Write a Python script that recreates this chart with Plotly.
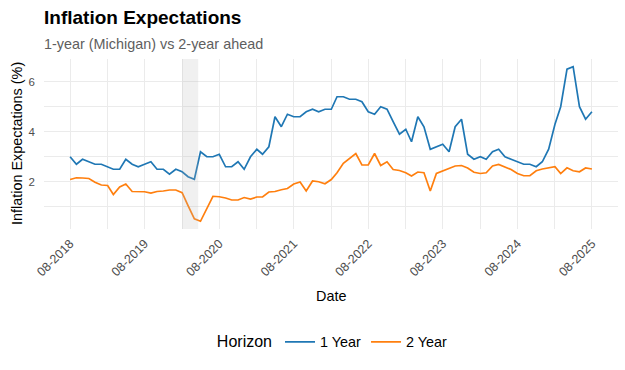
import pandas as pd
import plotly.graph_objects as go

# ---------------- data ----------------
start_month = "2018-08-01"
n_months = 85
dates = pd.date_range(start_month, periods=n_months, freq="MS")

one_year = [
    3.0, 2.7, 2.9, 2.8, 2.7,                                   # 2018 Aug-Dec
    2.7, 2.6, 2.5, 2.5, 2.9, 2.7, 2.6, 2.7, 2.8, 2.5, 2.5, 2.3,  # 2019
    2.5, 2.4, 2.2, 2.1, 3.2, 3.0, 3.0, 3.1, 2.6, 2.6, 2.8, 2.5,  # 2020
    3.0, 3.3, 3.1, 3.4, 4.6, 4.2, 4.7, 4.6, 4.6, 4.8, 4.9, 4.8,  # 2021
    4.9, 4.9, 5.4, 5.4, 5.3, 5.3, 5.2, 4.8, 4.7, 5.0, 4.9, 4.4,  # 2022
    3.9, 4.1, 3.6, 4.6, 4.2, 3.3, 3.4, 3.5, 3.2, 4.2, 4.5, 3.1,  # 2023
    2.9, 3.0, 2.9, 3.2, 3.3, 3.0, 2.9, 2.8, 2.7, 2.7, 2.6, 2.8,  # 2024
    3.3, 4.3, 5.0, 6.5, 6.6, 5.0, 4.5, 4.8,                      # 2025 Jan-Aug
]

two_year = [
    2.09, 2.16, 2.15, 2.13, 1.98,
    1.87, 1.85, 1.49, 1.79, 1.91, 1.61, 1.61, 1.60, 1.55, 1.61, 1.63, 1.67,
    1.67, 1.56, 1.05, 0.52, 0.42, 0.95, 1.42, 1.40, 1.35, 1.27, 1.27, 1.37,
    1.31, 1.39, 1.39, 1.59, 1.61, 1.68, 1.73, 1.91, 1.99, 1.63, 2.03, 2.00,
    1.92, 2.09, 2.36, 2.74, 2.94, 3.13, 2.67, 2.67, 3.13, 2.65, 2.80, 2.49,
    2.45, 2.36, 2.23, 2.39, 2.36, 1.63, 2.33, 2.43, 2.53, 2.63, 2.65, 2.55,
    2.38, 2.33, 2.36, 2.63, 2.69, 2.60, 2.49, 2.33, 2.24, 2.24, 2.44, 2.51,
    2.56, 2.60, 2.33, 2.56, 2.44, 2.40, 2.55, 2.51,
]

series_names = ["1 Year", "2 Year"]
series_colors = ["#1f77b4", "#ff7f0e"]

recession_start = "2020-02-01"
recession_end = "2020-04-20"

title_text = "Inflation Expectations"
subtitle_text = "1-year (Michigan) vs 2-year ahead"
x_title = "Date"
y_title = "Inflation Expectations (%)"
legend_title = "Horizon"

# ---------------- layout geometry ----------------
W, H = 625, 370
L, R, T, B = 44, 7, 59, 141
PW, PH = W - L - R, H - T - B


def px_x(x):
    return (x - L) / PW


def px_y(y):
    return (H - B - y) / PH


FONT = "Liberation Sans, Arial, sans-serif"

fig = go.Figure()
for name, vals, col in zip(series_names, [one_year, two_year], series_colors):
    fig.add_trace(go.Scatter(x=dates, y=vals, mode="lines", name=name,
                             line=dict(color=col, width=1.7)))

# expanded ranges like ggplot (5%)
span = dates[-1] - dates[0]
x_range = [dates[0] - span * 0.05, dates[-1] + span * 0.05]
all_vals = one_year + two_year
vmin, vmax = min(all_vals), max(all_vals)
pad = (vmax - vmin) * 0.05
y_range = [vmin - pad, vmax + pad]

fig.add_shape(type="rect", xref="x", yref="paper",
              x0=recession_start, x1=recession_end, y0=0, y1=1,
              fillcolor="rgb(179,179,179)", opacity=0.2, line=dict(width=0),
              layer="above")

grid = "#EBEBEB"
fig.update_xaxes(
    range=x_range, type="date", automargin=False,
    tick0=start_month, dtick="M12", tickformat="%m-%Y", tickangle=-45,
    showgrid=True, gridcolor=grid, gridwidth=1,
    minor=dict(tick0="2018-02-01", dtick="M12", showgrid=True,
               gridcolor=grid, gridwidth=1),
    showline=False, zeroline=False, ticks="",
    tickfont=dict(family=FONT, size=12.5, color="#4D4D4D"),
    ticklabelstandoff=4,
)
fig.update_yaxes(
    range=y_range, tick0=0, dtick=2, automargin=False,
    showgrid=True, gridcolor=grid, gridwidth=1,
    minor=dict(tick0=0, dtick=1, showgrid=True, gridcolor=grid, gridwidth=1),
    showline=False, zeroline=False, ticks="",
    tickfont=dict(family=FONT, size=11.5, color="#4D4D4D"),
    ticklabelstandoff=8,
)

annotations = [
    dict(text="<b>" + title_text + "</b>", x=px_x(42), y=px_y(17.5),
         xanchor="left", yanchor="middle",
         font=dict(family=FONT, size=19, color="black")),
    dict(text=subtitle_text, x=px_x(42), y=px_y(43.5),
         xanchor="left", yanchor="middle",
         font=dict(family=FONT, size=14.4, color="#5E5E5E")),
    dict(text=x_title, x=0.5, y=px_y(296),
         xanchor="center", yanchor="middle",
         font=dict(family=FONT, size=14.4, color="black")),
    dict(text=y_title, x=px_x(17), y=0.5, textangle=-90,
         xanchor="center", yanchor="middle",
         font=dict(family=FONT, size=14.4, color="black")),
]
for a in annotations:
    a.update(xref="paper", yref="paper", showarrow=False)

fig.update_layout(
    width=W, height=H,
    margin=dict(l=L, r=R, t=T, b=B, autoexpand=False),
    paper_bgcolor="white", plot_bgcolor="white",
    annotations=annotations,
    font=dict(family=FONT),
    legend=dict(
        orientation="h", x=0.505, xanchor="center", y=px_y(342), yanchor="middle",
        title=dict(text=legend_title, side="left",
                   font=dict(family=FONT, size=16, color="black")),
        font=dict(family=FONT, size=14.4, color="black"),
        bgcolor="rgba(0,0,0,0)",
    ),
)

fig.write_html(
    "out.html",
    config={"displayModeBar": False},
    post_script="document.body.style.margin='0';document.body.style.overflow='hidden';",
)
